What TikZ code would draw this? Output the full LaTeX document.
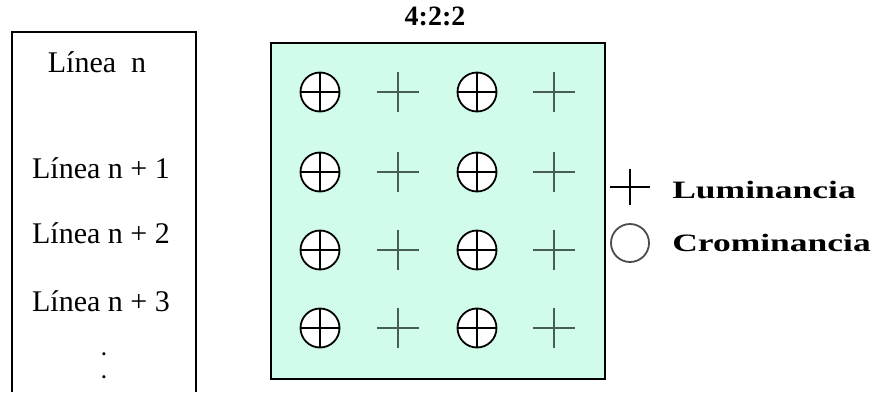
\documentclass[tikz,border=0pt]{standalone}
\usepackage{fontspec}
\setmainfont{Liberation Serif}
\definecolor{mint}{RGB}{210,252,234}
\definecolor{lumcol}{RGB}{70,95,82}
\begin{document}
\begin{tikzpicture}[x=1pt,y=-1pt,
  lbl/.style={inner sep=0pt, anchor=base, font=\fontsize{30}{30}\selectfont},
  dotlbl/.style={inner sep=0pt, anchor=base, font=\bfseries\fontsize{19}{19}\selectfont},
  chroma/.style={circle, draw=black, line width=1.8pt, fill=white, minimum size=39pt, inner sep=0pt},
  lumabox/.style={inner sep=0pt, minimum width=42pt, minimum height=40pt},
  lumaline/.style={draw=lumcol, line width=2.6pt},
  crossline/.style={draw=black, line width=2.4pt},
  legtext/.style={inner sep=0pt, anchor=west, xscale=1.42, transform shape, font=\bfseries\fontsize{25}{25}\selectfont}
]
\useasboundingbox (0,0) rectangle (883,392);
% left column box
\coordinate (lb1) at (12,392);
\coordinate (lb2) at (12,32);
\coordinate (lb3) at (196,32);
\coordinate (lb4) at (196,392);
\draw[line width=1.5pt] (lb1) -- (lb2) -- (lb3) -- (lb4);
\node (t0) [lbl] at (97,72) {Línea\ \ n};
\node (t1) [lbl] at (101,178) {Línea n + 1};
\node (t2) [lbl] at (101,243) {Línea n + 2};
\node (t3) [lbl] at (101,311) {Línea n + 3};
\node (d1) [dotlbl] at (104,355) {.};
\node (d2) [dotlbl] at (104,378) {.};
% grid box
\node (grid) [draw=black, fill=mint, line width=2pt, minimum width=334pt, minimum height=336pt, anchor=north west, inner sep=0pt] at (270,42) {};
\node (title) [font=\bfseries\fontsize{28}{28}\selectfont, inner sep=0pt] at (435,16) {4:2:2};
\foreach \r/\y in {1/92,2/172,3/250,4/328}{
  \foreach \c/\x in {1/320,2/477}{
    \node (c\r\c) [chroma] at (\x,\y) {};
    \draw[crossline] (c\r\c.west) -- (c\r\c.east);
    \draw[crossline] (c\r\c.north) -- (c\r\c.south);
  }
  \foreach \c/\x in {1/398,2/554}{
    \node (l\r\c) [lumabox] at (\x,\y) {};
    \draw[lumaline] (l\r\c.west) -- (l\r\c.east);
    \draw[lumaline] (l\r\c.north) -- (l\r\c.south);
  }
}
% legend
\node (legl) [inner sep=0pt, minimum width=40pt, minimum height=36pt] at (630,187) {};
\draw[draw=black, line width=2.4pt] (legl.west) -- (legl.east);
\draw[draw=black, line width=2.4pt] (legl.north) -- (legl.south);
\node (legltext) [legtext] at (672,190) {Luminancia};
\node (legc) [circle, draw=black!70, line width=1.8pt, minimum size=38pt, inner sep=0pt] at (630,243) {};
\node (legctext) [legtext] at (672,243) {Crominancia};
\end{tikzpicture}
\end{document}
